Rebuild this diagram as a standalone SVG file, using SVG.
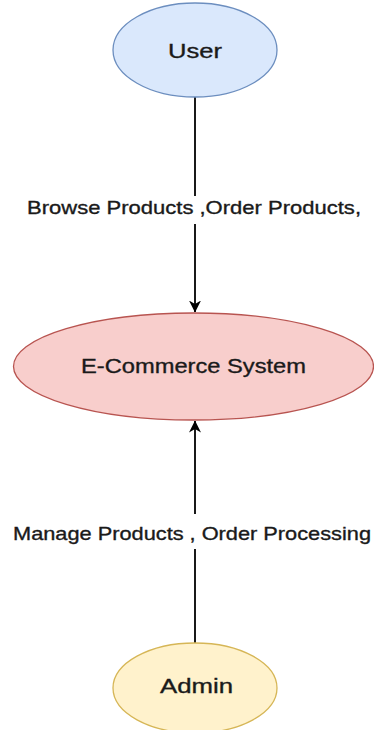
<svg xmlns="http://www.w3.org/2000/svg" width="374" height="730" viewBox="0 0 374 730">
  <style>
    .node-text { font-family: "Liberation Sans", Arial, sans-serif; font-size: 21px; fill: #1a1a1a; stroke: #1a1a1a; stroke-width: 0.35; text-anchor: middle; }
    .edge-label { font-family: "Liberation Sans", Arial, sans-serif; font-size: 19px; fill: #1a1a1a; stroke: #1a1a1a; stroke-width: 0.35; text-anchor: middle; }
    .edge { stroke: #000000; stroke-width: 1.8; fill: none; }
    .user { fill: #dae8fc; stroke: #6c8ebf; stroke-width: 1.3; }
    .system { fill: #f8cecc; stroke: #b85450; stroke-width: 1.3; }
    .admin { fill: #fff2cc; stroke: #d6b656; stroke-width: 1.3; }
  </style>
  <defs>
    <marker id="arrow" viewBox="0 0 12 12" refX="11.5" refY="6" markerWidth="12" markerHeight="12" markerUnits="userSpaceOnUse" orient="auto">
      <path d="M0,0 L12,6 L0,12 L3.5,6 Z" fill="#000000"/>
    </marker>
  </defs>

  <rect width="374" height="730" fill="#ffffff"/>

  <!-- connectors -->
  <g id="connectors">
    <g id="edge-user-system">
      <line class="edge" x1="195" y1="97" x2="195" y2="312" marker-end="url(#arrow)"/>
      <rect x="24" y="196" width="340" height="28" fill="#ffffff"/>
      <text class="edge-label" x="194" y="214" textLength="334" lengthAdjust="spacingAndGlyphs">Browse Products ,Order Products,</text>
    </g>
    <g id="edge-admin-system">
      <line class="edge" x1="195" y1="643" x2="195" y2="421" marker-end="url(#arrow)"/>
      <rect x="10" y="514" width="364" height="35" fill="#ffffff"/>
      <text class="edge-label" x="192" y="540" textLength="358" lengthAdjust="spacingAndGlyphs">Manage Products , Order Processing</text>
    </g>
  </g>

  <!-- nodes -->
  <g id="node-user">
    <ellipse class="user" cx="195" cy="50" rx="82" ry="47"/>
    <text class="node-text" x="195" y="57.5" textLength="54" lengthAdjust="spacingAndGlyphs">User</text>
  </g>
  <g id="node-system">
    <ellipse class="system" cx="193.5" cy="366.5" rx="180" ry="53.5"/>
    <text class="node-text" x="193.5" y="373" textLength="225" lengthAdjust="spacingAndGlyphs">E-Commerce System</text>
  </g>
  <g id="node-admin">
    <ellipse class="admin" cx="195" cy="688" rx="82" ry="45"/>
    <text class="node-text" x="196.5" y="693" textLength="73" lengthAdjust="spacingAndGlyphs">Admin</text>
  </g>
</svg>
